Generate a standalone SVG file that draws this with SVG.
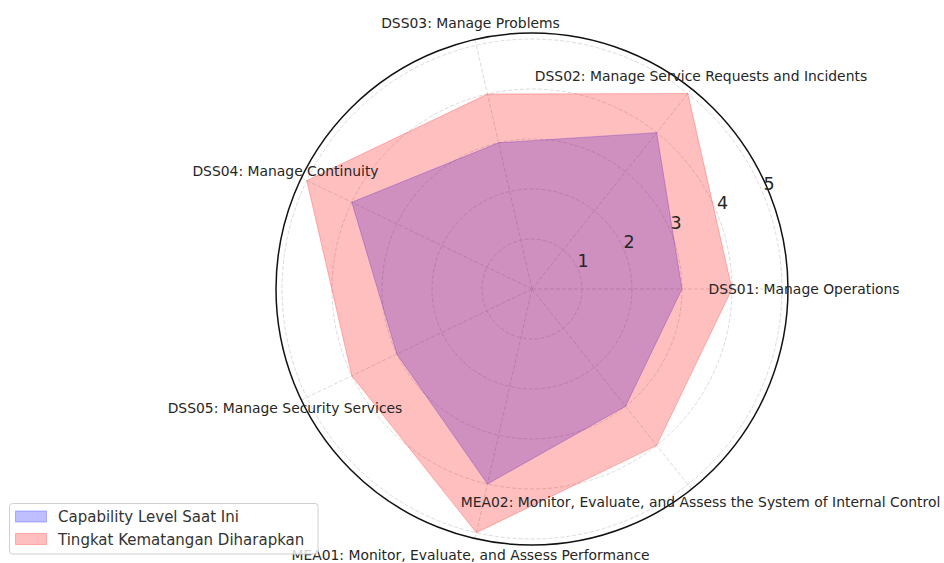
<svg xmlns="http://www.w3.org/2000/svg" width="944" height="563" viewBox="0 0 944 563">
<style>
.grid{fill:none;stroke:#d2d2d2;stroke-width:0.8;stroke-dasharray:4 2}
.axlbl{font-family:"DejaVu Sans","Liberation Sans",sans-serif;font-size:13.9px;fill:#262626;text-anchor:middle;dominant-baseline:central}
.rlbl{font-family:"DejaVu Sans","Liberation Sans",sans-serif;font-size:17.5px;fill:#262626;text-anchor:middle;dominant-baseline:central}
.leg{font-family:"DejaVu Sans","Liberation Sans",sans-serif;font-size:15px;fill:#333;dominant-baseline:central}
.cur{fill:blue;fill-opacity:0.25;stroke:blue;stroke-opacity:0.25;stroke-width:1}
.exp{fill:red;fill-opacity:0.25;stroke:red;stroke-opacity:0.25;stroke-width:1}
</style>
<rect width="944" height="563" fill="#fff"/>
<g id="grid">
<circle class="grid" cx="532" cy="289" r="50"/>
<circle class="grid" cx="532" cy="289" r="100"/>
<circle class="grid" cx="532" cy="289" r="150"/>
<circle class="grid" cx="532" cy="289" r="200"/>
<circle class="grid" cx="532" cy="289" r="250"/>
<path class="grid" d="M532 289L788 289M532 289L691.61 88.85M532 289L475.03 39.42M532 289L301.35 177.93M532 289L301.35 400.07M532 289L475.03 538.58M532 289L691.61 489.15"/>
</g>
<g id="series-current">
<polygon class="cur" points="682,289 656.7,132.63 498.62,142.76 351.81,202.22 396.85,354.08 487.5,483.99 625.52,406.27"/>
</g>
<g id="series-expected">
<polygon class="exp" points="732,289 687.87,93.54 487.5,94.01 306.76,180.53 351.81,375.78 476.37,532.73 656.7,445.37"/>
</g>
<circle id="spine" cx="532" cy="289" r="256" fill="none" stroke="#111" stroke-width="1.5"/>
<g id="radial-labels">
<text class="rlbl" x="583" y="261">1</text>
<text class="rlbl" x="629" y="241.5">2</text>
<text class="rlbl" x="676" y="222.5">3</text>
<text class="rlbl" x="722.5" y="202.5">4</text>
<text class="rlbl" x="769" y="183.5">5</text>
</g>
<g id="axis-labels">
<text class="axlbl" x="804" y="289">DSS01: Manage Operations</text>
<text class="axlbl" x="701" y="76">DSS02: Manage Service Requests and Incidents</text>
<text class="axlbl" x="470.5" y="23">DSS03: Manage Problems</text>
<text class="axlbl" x="285.5" y="171">DSS04: Manage Continuity</text>
<text class="axlbl" x="285" y="408">DSS05: Manage Security Services</text>
<text class="axlbl" x="470.5" y="555">MEA01: Monitor, Evaluate, and Assess Performance</text>
<text class="axlbl" x="700.5" y="502">MEA02: Monitor, Evaluate, and Assess the System of Internal Control</text>
</g>
<g id="legend">
<rect x="9.5" y="503.5" width="308.5" height="50.5" rx="3" fill="#fff" fill-opacity="0.8" stroke="#d0d0d0" stroke-width="1"/>
<rect x="15.5" y="511" width="31" height="11" class="cur"/>
<rect x="15.5" y="533.5" width="31" height="11" class="exp"/>
<text class="leg" x="58" y="517">Capability Level Saat Ini</text>
<text class="leg" x="58" y="539.5">Tingkat Kematangan Diharapkan</text>
</g>
</svg>
